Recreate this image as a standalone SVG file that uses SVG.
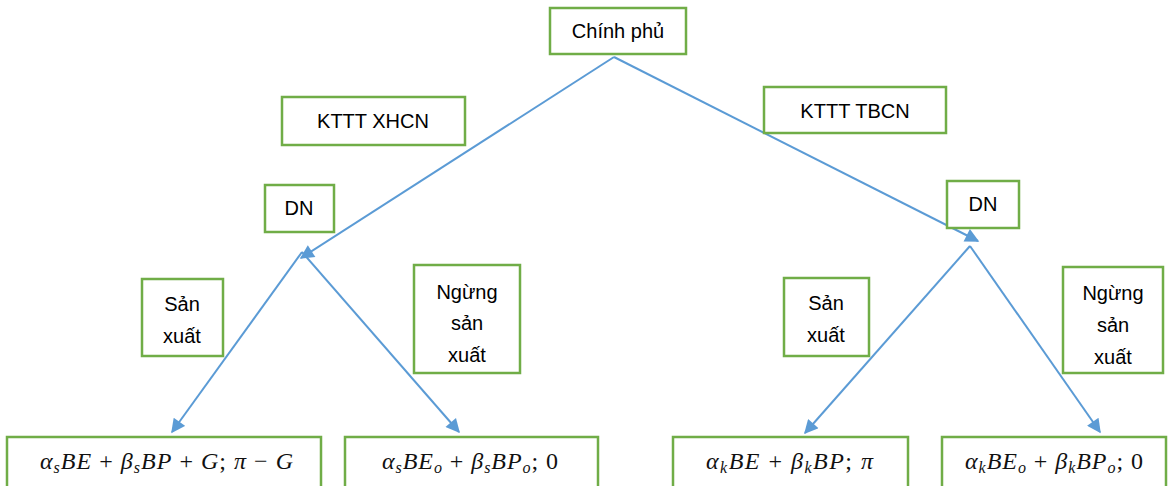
<svg xmlns="http://www.w3.org/2000/svg" width="1168" height="486" viewBox="0 0 1168 486">
<style>
.box{fill:#fff;stroke:#70AD47;stroke-width:2.5}
.t{font-family:"Liberation Sans","DejaVu Sans",sans-serif;font-size:20px;fill:#000;text-anchor:middle}
.m{font-family:"Liberation Serif","DejaVu Serif",serif;font-size:24px;fill:#111}
.i{font-style:italic}
.s{font-size:16px;font-style:italic}
.c{stroke:#5B9BD5;stroke-width:2;fill:none;marker-end:url(#ah)}
</style>
<defs>
<marker id="ah" viewBox="0 0 10 10" refX="9" refY="5" markerWidth="16" markerHeight="14" markerUnits="userSpaceOnUse" orient="auto">
<path d="M0,0 L10,5 L0,10 z" fill="#5B9BD5"/>
</marker>
</defs>
<g id="connectors">
<line class="c" x1="614" y1="57" x2="301" y2="258"/>
<line class="c" x1="614" y1="57" x2="978" y2="241"/>
<line class="c" x1="302" y1="252" x2="172" y2="432"/>
<line class="c" x1="302" y1="252" x2="459" y2="432"/>
<line class="c" x1="970" y1="246" x2="805" y2="433"/>
<line class="c" x1="970" y1="246" x2="1100" y2="432"/>
</g>
<g id="chinh-phu"><rect class="box" x="550" y="8" width="136" height="46"/><text class="t" x="618" y="38">Chính phủ</text></g>
<g id="kttt-xhcn"><rect class="box" x="282" y="97" width="183" height="48"/><text class="t" x="373" y="128">KTTT XHCN</text></g>
<g id="kttt-tbcn"><rect class="box" x="764" y="87" width="182" height="46"/><text class="t" x="855" y="118">KTTT TBCN</text></g>
<g id="dn-left"><rect class="box" x="265" y="185" width="69" height="47"/><text class="t" x="299" y="215">DN</text></g>
<g id="dn-right"><rect class="box" x="947" y="181" width="72" height="47"/><text class="t" x="983" y="211">DN</text></g>
<g id="sx-left"><rect class="box" x="142" y="279" width="81" height="77"/><text class="t" x="182" y="311">Sản</text><text class="t" x="182" y="343">xuất</text></g>
<g id="nsx-left"><rect class="box" x="414" y="265" width="106" height="108"/><text class="t" x="467" y="299">Ngừng</text><text class="t" x="467" y="330">sản</text><text class="t" x="467" y="362">xuất</text></g>
<g id="sx-right"><rect class="box" x="784" y="278" width="85" height="78"/><text class="t" x="826" y="310">Sản</text><text class="t" x="826" y="342">xuất</text></g>
<g id="nsx-right"><rect class="box" x="1063" y="267" width="100" height="106"/><text class="t" x="1113" y="300">Ngừng</text><text class="t" x="1113" y="332">sản</text><text class="t" x="1113" y="364">xuất</text></g>
<g id="pay-1"><rect class="box" x="7" y="437" width="314" height="60"/><text class="m" x="40" y="469" textLength="253" lengthAdjust="spacing"><tspan class="i">α</tspan><tspan class="s" dy="4">s</tspan><tspan class="i" dy="-4">BE</tspan> + <tspan class="i">β</tspan><tspan class="s" dy="4">s</tspan><tspan class="i" dy="-4">BP</tspan> + <tspan class="i">G</tspan>; <tspan class="i">π</tspan> − <tspan class="i">G</tspan></text></g>
<g id="pay-2"><rect class="box" x="345" y="437" width="253" height="60"/><text class="m" x="382" y="469" textLength="176" lengthAdjust="spacing"><tspan class="i">α</tspan><tspan class="s" dy="4">s</tspan><tspan class="i" dy="-4">BE</tspan><tspan class="s" dy="4">o</tspan><tspan dy="-4"> + </tspan><tspan class="i">β</tspan><tspan class="s" dy="4">s</tspan><tspan class="i" dy="-4">BP</tspan><tspan class="s" dy="4">o</tspan><tspan dy="-4">;  0</tspan></text></g>
<g id="pay-3"><rect class="box" x="673" y="437" width="235" height="60"/><text class="m" x="706" y="469" textLength="167" lengthAdjust="spacing"><tspan class="i">α</tspan><tspan class="s" dy="4">k</tspan><tspan class="i" dy="-4">BE</tspan> + <tspan class="i">β</tspan><tspan class="s" dy="4">k</tspan><tspan class="i" dy="-4">BP</tspan>; <tspan class="i">π</tspan></text></g>
<g id="pay-4"><rect class="box" x="942" y="437" width="224" height="60"/><text class="m" x="965" y="469" textLength="178" lengthAdjust="spacing"><tspan class="i">α</tspan><tspan class="s" dy="4">k</tspan><tspan class="i" dy="-4">BE</tspan><tspan class="s" dy="4">o</tspan><tspan dy="-4"> + </tspan><tspan class="i">β</tspan><tspan class="s" dy="4">k</tspan><tspan class="i" dy="-4">BP</tspan><tspan class="s" dy="4">o</tspan><tspan dy="-4">;  0</tspan></text></g>
</svg>
